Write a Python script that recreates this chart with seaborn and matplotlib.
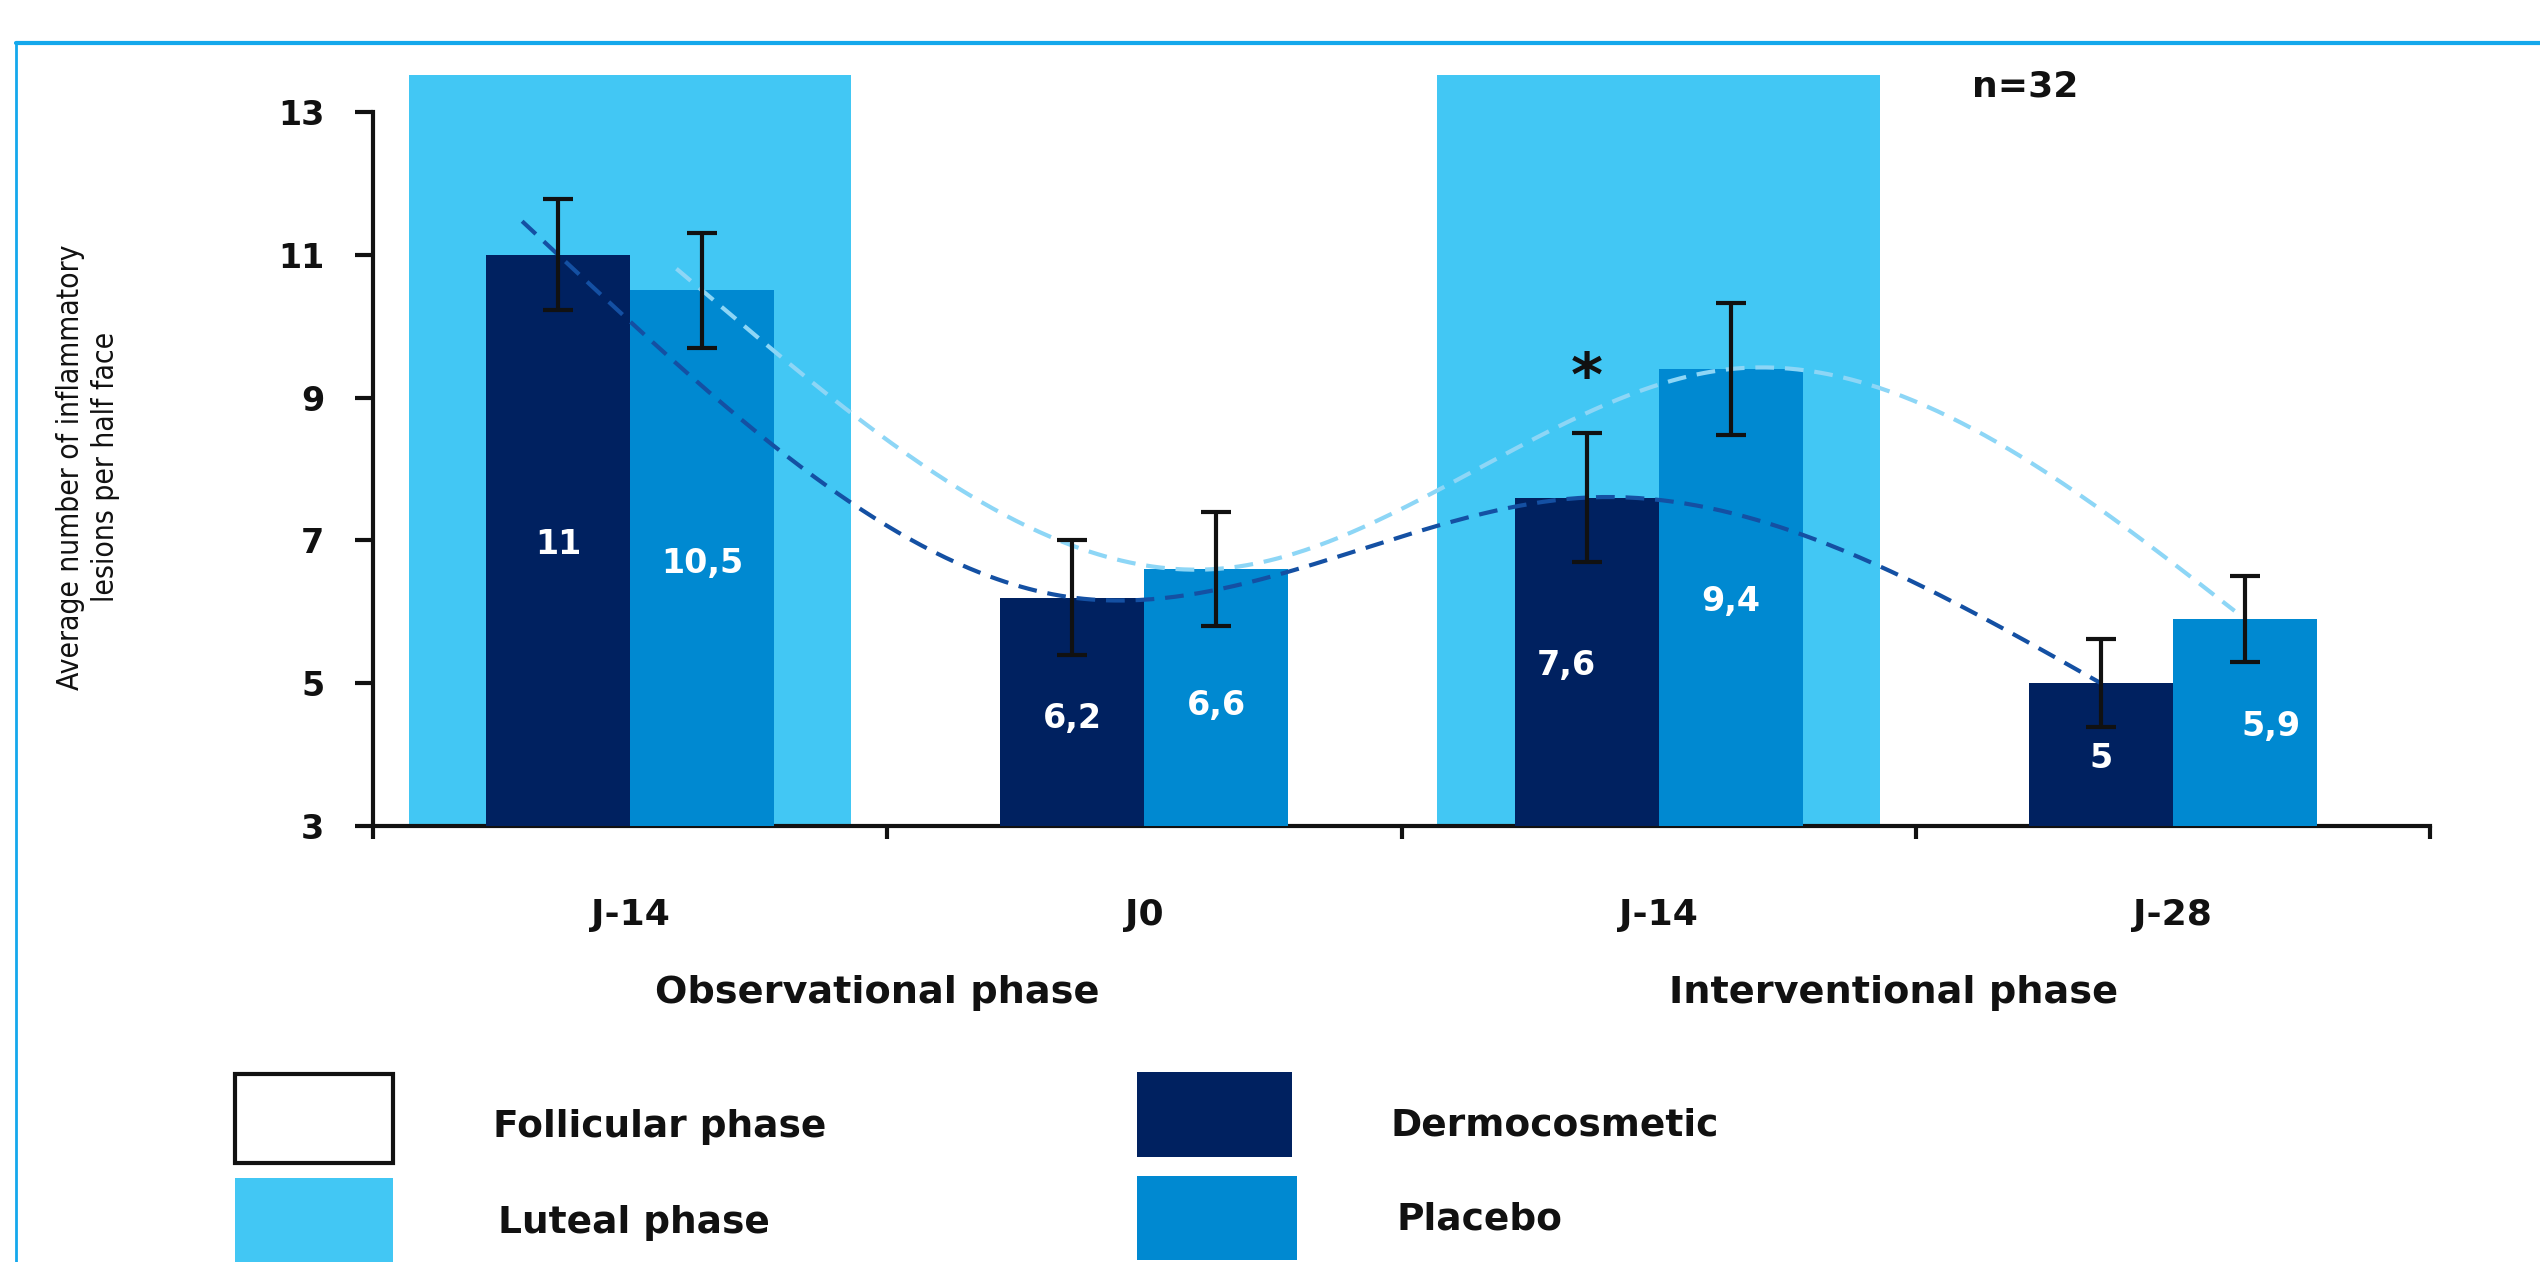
import numpy as np
import pandas as pd
import matplotlib
matplotlib.use("Agg")
import matplotlib.pyplot as plt
import matplotlib.transforms as mtransforms
from matplotlib.patches import Rectangle
from matplotlib.lines import Line2D
import seaborn as sns

# ---- data -------------------------------------------------------------
visit_labels = ["J-14", "J0", "J-14", "J-28"]
phase_labels = ["Observational phase", "Interventional phase"]
groups = ["Dermocosmetic", "Placebo"]
dermo_mean = [11, 6.2, 7.6, 5]
placebo_mean = [10.5, 6.6, 9.4, 5.9]
dermo_err = [0.78, 0.8, 0.9, 0.62]
placebo_err = [0.8, 0.8, 0.92, 0.6]
dermo_text = ["11", "6,2", "7,6", "5"]
placebo_text = ["10,5", "6,6", "9,4", "5,9"]
luteal_visits = [0, 2]
significant_dermo_visits = [2]
sample_size = "n=32"
y_ticks = [3, 5, 7, 9, 11, 13]
legend_phase = ["Follicular phase", "Luteal phase"]

# ---- styling ----------------------------------------------------------
NAVY = "#002160"
BLUE = "#0089d1"
LUTEAL = "#42c7f4"
DASH_DARK = "#1450a3"
DASH_LIGHT = "#8dd6f6"
FRAME = "#14a8ec"
INK = "#111111"
FONT = "DejaVu Sans"

sns.set_theme(style="white")
plt.rcParams["font.family"] = [FONT]

W, H = 2540, 1262
fig = plt.figure(figsize=(W / 100, H / 100), dpi=100)
fig.patch.set_facecolor("white")


def fx(px):
    return px / W


def fy(py):
    return 1 - py / H


ax = fig.add_axes([fx(373), fy(826), fx(2430) - fx(373), (826 - 62) / H])

df = pd.DataFrame({
    "visit": list(range(4)) * 2,
    "group": [groups[0]] * 4 + [groups[1]] * 4,
    "value": dermo_mean + placebo_mean,
})

sns.barplot(data=df, x="visit", y="value", hue="group", hue_order=groups,
            palette=[NAVY, BLUE], width=0.56, saturation=1, errorbar=None,
            legend=False, ax=ax, zorder=3, linewidth=0)

ax.set_xlim(-0.5, 3.5)
ax.set_ylim(3, 13.7)

# luteal-phase background bands
for v in luteal_visits:
    ax.add_patch(Rectangle((v - 0.43, 3), 0.86, 10.52, facecolor=LUTEAL,
                           edgecolor="none", zorder=1))


def natural_spline(xk, yk, xs):
    """Natural cubic spline through the knots (xk, yk), evaluated at xs."""
    xk = np.asarray(xk, float)
    yk = np.asarray(yk, float)
    n = len(xk)
    h = np.diff(xk)
    A = np.zeros((n, n))
    b = np.zeros(n)
    A[0, 0] = A[-1, -1] = 1
    for i in range(1, n - 1):
        A[i, i - 1] = h[i - 1]
        A[i, i] = 2 * (h[i - 1] + h[i])
        A[i, i + 1] = h[i]
        b[i] = 6 * ((yk[i + 1] - yk[i]) / h[i] - (yk[i] - yk[i - 1]) / h[i - 1])
    M = np.linalg.solve(A, b)
    idx = np.clip(np.searchsorted(xk, xs) - 1, 0, n - 2)
    x0, x1 = xk[idx], xk[idx + 1]
    hh = x1 - x0
    a = (x1 - xs) / hh
    c = (xs - x0) / hh
    return (a * yk[idx] + c * yk[idx + 1]
            + ((a ** 3 - a) * M[idx] + (c ** 3 - c) * M[idx + 1]) * hh ** 2 / 6)


# per group: errors, value texts, trend colour, trend lead-in / lead-out,
# label x nudges and label heights
series = [
    (dermo_err, dermo_text, DASH_DARK, 0.07, 0.0,
     [0, 0, -0.04, 0], [6.94, 4.51, 5.25, 3.95]),
    (placebo_err, placebo_text, DASH_LIGHT, 0.05, 0.02,
     [0, 0, 0, 0.05], [6.68, 4.69, 6.14, 4.40]),
]

bar_centres = []
for container, (err, texts, dash_col, pre, post, dx, ty) in zip(ax.containers, series):
    bars = sorted(container.patches, key=lambda p: p.get_x())
    xc = np.array([p.get_x() + p.get_width() / 2 for p in bars])
    yv = np.array([p.get_height() for p in bars])
    bar_centres.append(xc)

    xs = np.linspace(xc[0] - pre, xc[-1] - post, 400)
    ax.plot(xs, natural_spline(xc, yv, xs), color=dash_col, lw=3,
            dashes=(4.5, 2.6), zorder=4, dash_capstyle="butt")

    ax.errorbar(xc, yv, yerr=err, fmt="none", ecolor=INK, elinewidth=3,
                capsize=11, capthick=3, zorder=5)

    for x, t, off, y in zip(xc, texts, dx, ty):
        ax.text(x + off, y, t, color="white", fontsize=24, fontweight="bold",
                ha="center", va="center", zorder=6)

for v in significant_dermo_visits:
    ax.text(bar_centres[0][v], 9.25, "*", fontsize=44, fontweight="bold",
            ha="center", va="center", color=INK, zorder=6)

ax.text(2.61, 13.36, sample_size, fontsize=26, fontweight="bold",
        ha="left", va="center", color=INK)

# axes styling
for s in ["top", "right"]:
    ax.spines[s].set_visible(False)
for s in ["left", "bottom"]:
    ax.spines[s].set_color(INK)
    ax.spines[s].set_linewidth(3)
ax.spines["left"].set_bounds(3, 13)
ax.spines["bottom"].set_bounds(-0.5, 3.5)
ax.set_facecolor("none")

ax.set_yticks(y_ticks)
ax.set_yticklabels([str(t) for t in y_ticks], fontsize=24, fontweight="bold",
                   color=INK)
ax.tick_params(axis="y", left=True, length=13, width=3, color=INK, pad=22)

ax.set_xticks(range(4))
ax.set_xticklabels(visit_labels, fontsize=26, fontweight="bold", color=INK)
ax.set_xticks([-0.5, 0.5, 1.5, 2.5, 3.5], minor=True)
ax.tick_params(axis="x", which="major", length=0, pad=52)
ax.tick_params(axis="x", which="minor", bottom=True, length=9, width=3,
               color=INK)
ax.set_xlabel("")
ax.set_ylabel("")
ax.grid(False)

trans = mtransforms.blended_transform_factory(ax.transData, ax.transAxes)
for x, lab in zip([0.48, 2.456], phase_labels):
    ax.text(x, -(993 - 826) / 764, lab, transform=trans, fontsize=27.5,
            fontweight="bold", ha="center", va="center", color=INK,
            clip_on=False)

fig.text(fx(88), fy(467), "Average number of inflammatory\nlesions per half face",
         rotation=90, ha="center", va="center", multialignment="center",
         fontsize=21.5, linespacing=1.25, color=INK,
         family=["Liberation Sans Narrow", "DejaVu Sans"], fontstretch="condensed")

# legend
legend_boxes = [
    ((235, 1074, 393, 1163), "white", INK),
    ((235, 1178, 393, 1270), LUTEAL, "none"),
    ((1137, 1072, 1292, 1157), NAVY, "none"),
    ((1137, 1176, 1297, 1260), BLUE, "none"),
]
for (x0, y0, x1, y1), fc, ec in legend_boxes:
    fig.add_artist(Rectangle((fx(x0), fy(y1)), fx(x1) - fx(x0), (y1 - y0) / H,
                             transform=fig.transFigure, facecolor=fc,
                             edgecolor=ec, lw=3))
legend_text = [(493, 1127, legend_phase[0]), (498, 1223, legend_phase[1]),
               (1390, 1125, groups[0]), (1396, 1219, groups[1])]
for x, y, t in legend_text:
    fig.text(fx(x), fy(y), t, fontsize=27, fontweight="bold", ha="left",
             va="center", color=INK)

# frame
fig.add_artist(Line2D([fx(16), 1], [fy(43), fy(43)], transform=fig.transFigure,
                      color=FRAME, lw=3))
fig.add_artist(Line2D([fx(16), fx(16)], [0, fy(43)], transform=fig.transFigure,
                      color=FRAME, lw=2))

fig.savefig("out.png", dpi=100, facecolor="white")
